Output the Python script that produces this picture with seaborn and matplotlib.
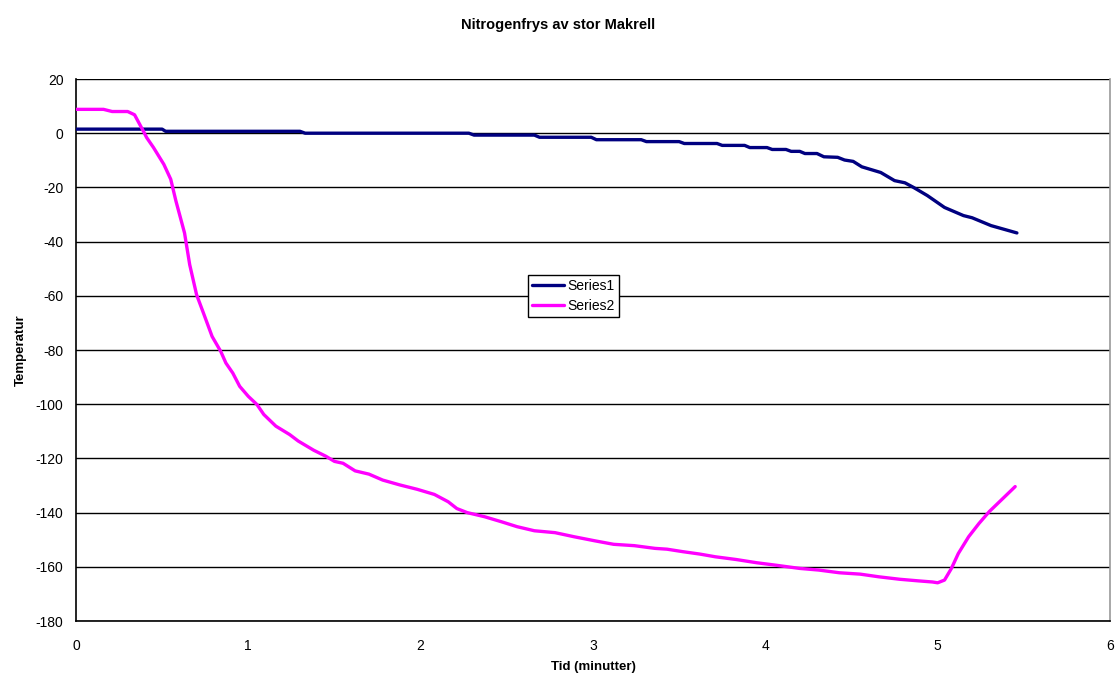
import numpy as np
import pandas as pd
import matplotlib
matplotlib.use("Agg")
import matplotlib.pyplot as plt
import seaborn as sns

sns.set_theme(style="white")
plt.rcParams['font.family'] = ['Liberation Sans', 'DejaVu Sans']
plt.rcParams['axes.unicode_minus'] = False
plt.rcParams['text.color'] = 'black'
plt.rcParams['axes.labelcolor'] = 'black'

title = "Nitrogenfrys av stor Makrell"
xlabel = "Tid (minutter)"
ylabel = "Temperatur"
series_names = ["Series1", "Series2"]

t1 = [0.00, 0.50, 0.52, 1.30, 1.33, 2.28, 2.31, 2.66, 2.69, 2.99, 3.02, 3.28, 3.31,
      3.50, 3.53, 3.72, 3.75, 3.88, 3.91, 4.01, 4.04, 4.12, 4.15, 4.20, 4.23, 4.30,
      4.34, 4.42, 4.46, 4.51, 4.56, 4.67, 4.75, 4.81, 4.86, 4.94, 5.04, 5.15, 5.20,
      5.31, 5.46]
s1 = [1.5, 1.5, 0.7, 0.7, 0.0, 0.0, -0.7, -0.7, -1.5, -1.5, -2.4, -2.4, -3.1,
      -3.1, -3.8, -3.8, -4.5, -4.5, -5.3, -5.3, -6.0, -6.0, -6.7, -6.7, -7.5, -7.5,
      -8.7, -8.9, -9.9, -10.4, -12.4, -14.5, -17.5, -18.3, -20.0, -23.0, -27.4, -30.4, -31.2,
      -34.1, -36.8]

t2 = [0.00, 0.16, 0.21, 0.30, 0.34, 0.39, 0.41, 0.45, 0.51, 0.55, 0.58, 0.63, 0.66,
      0.70, 0.74, 0.79, 0.84, 0.87, 0.91, 0.95, 1.00, 1.05, 1.09, 1.16, 1.24, 1.29,
      1.38, 1.45, 1.50, 1.55, 1.62, 1.70, 1.78, 1.88, 1.98, 2.08, 2.16, 2.21, 2.27,
      2.37, 2.47, 2.56, 2.66, 2.78, 2.89, 3.01, 3.12, 3.24, 3.36, 3.43, 3.52, 3.62,
      3.71, 3.83, 3.95, 4.06, 4.20, 4.31, 4.43, 4.55, 4.66, 4.78, 4.89, 4.97, 5.00,
      5.04, 5.08, 5.12, 5.18, 5.24, 5.30, 5.38, 5.45]
s2 = [8.8, 8.8, 8.0, 8.0, 6.8, 0.9, -1.6, -5.3, -11.5, -17.0, -25.0, -36.8, -48.5,
      -59.6, -66.4, -75.0, -80.5, -84.8, -88.5, -93.4, -97.1, -100.1, -103.8, -108.1, -111.2, -113.6,
      -117.0, -119.2, -121.1, -121.8, -124.6, -125.8, -128.0, -129.8, -131.4, -133.3, -136.0, -138.5, -140.0,
      -141.5, -143.4, -145.2, -146.7, -147.4, -148.9, -150.4, -151.7, -152.2, -153.2, -153.5, -154.4, -155.3,
      -156.3, -157.3, -158.5, -159.4, -160.6, -161.2, -162.2, -162.7, -163.7, -164.6, -165.2, -165.6, -165.9,
      -164.9, -160.6, -155.1, -148.9, -144.0, -139.6, -134.7, -130.4]

colors = ["#000080", "#FF00FF"]

df = pd.concat([
    pd.DataFrame({"t": t1, "temp": s1, "series": series_names[0]}),
    pd.DataFrame({"t": t2, "temp": s2, "series": series_names[1]}),
], ignore_index=True)

fig = plt.figure(figsize=(11.17, 6.84), dpi=100)
ax = fig.add_axes([0.068, 0.0921, 0.9257, 0.7924])

sns.lineplot(data=df, x="t", y="temp", hue="series", palette=colors,
             estimator=None, sort=False, linewidth=2.4, ax=ax, zorder=3)

ax.set_xlim(0, 6)
ax.set_ylim(-180, 20)
ax.set_xticks(np.arange(0, 7, 1))
ax.set_yticks(np.arange(-180, 21, 20))
ax.yaxis.grid(True, color="black", linewidth=1.0)
ax.xaxis.grid(False)
ax.set_axisbelow(True)

for side in ["left", "bottom"]:
    ax.spines[side].set_color("black")
    ax.spines[side].set_linewidth(1.2)
ax.spines["right"].set_color("#999999")
ax.spines["right"].set_linewidth(1.2)
ax.spines["top"].set_visible(False)

ax.tick_params(axis="both", which="major", direction="out", length=5, width=1,
               color="black", labelsize=10, labelcolor="black", pad=4)
ax.tick_params(axis="x", pad=8)

ax.set_xlabel(xlabel, fontsize=9.5, fontweight="bold", labelpad=6, color="black")
ax.set_ylabel(ylabel, fontsize=9.5, fontweight="bold", labelpad=6, color="black")
fig.suptitle(title, fontsize=10.5, fontweight="bold", y=0.9635, va="center", color="black")

leg = ax.legend(loc="center", bbox_to_anchor=(0.481, 0.600), frameon=True,
                fancybox=False, fontsize=10, handlelength=2.3, handletextpad=0.2,
                borderpad=0.3, labelspacing=0.4, borderaxespad=0)
leg.get_frame().set_edgecolor("black")
leg.get_frame().set_linewidth(1.0)
leg.get_frame().set_facecolor("white")
leg.get_frame().set_alpha(1)
for line in leg.get_lines():
    line.set_linewidth(2.4)
for txt in leg.get_texts():
    txt.set_color("black")

fig.savefig("out.png", dpi=100)
